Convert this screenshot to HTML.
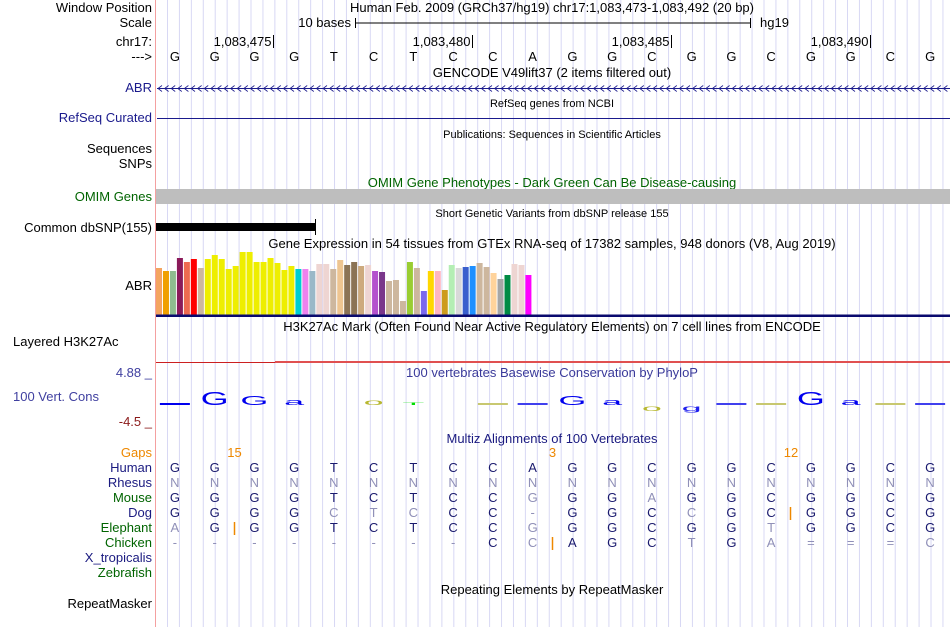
<!DOCTYPE html>
<html><head><meta charset="utf-8"><style>
body{margin:0;background:#fff;}
svg{display:block;font-family:"Liberation Sans",sans-serif;}
</style></head><body>
<svg id="c" width="950" height="627" viewBox="0 0 950 627" xmlns="http://www.w3.org/2000/svg"></svg>
<script>
const bases=["G","G","G","G","T","C","T","C","C","A","G","G","C","G","G","C","G","G","C","G"];
const gtexValues=[47,44,44,57,53,56,47,56,60,56,46,49,63,63,53,53,57,52,45,49,46,46,44,51,51,46,55,50,53,49,50,44,43,34,35,14,53,47,24,44,44,25,50,47,48,49,52,48,42,36,40,51,50,40];
const gtexColors=["#f4a460","#f0a000","#8fbc8f","#8b1a5a","#ee6a50","#ff0000","#cdb79e","#eeee00","#eeee00","#eeee00","#eeee00","#eeee00","#eeee00","#eeee00","#eeee00","#eeee00","#eeee00","#eeee00","#eeee00","#eeee00","#00ced1","#ee82ee","#9ab8c8","#eed5d2","#eed5d2","#cdb79e","#eec591","#8b7355","#8b7355","#cdaa7d","#eed5d2","#b452cd","#7a378b","#cdb79e","#cdb79e","#cdb79e","#9acd32","#cdb79e","#7b68ee","#ffd700","#ffb6c1","#cd9b1d","#b4eeb4","#d9d9d9","#3a5fcd","#1e90ff","#cdb79e","#cdb79e","#ffd39b","#a6a6a6","#008b45","#eed5d2","#eed5d2","#ff00ff"];
const tickLabels=["1,083,475","1,083,480","1,083,485","1,083,490"];
const tickBases=[2,7,12,17];
const consLetters=["_","G","G","a","","o","T","","_","_","G","a","o","g","_","_","G","a","_","_"];
const consHeights=[2,14,10,7,0,6,3,0,2,2,10,7,-6,-6,2,2,14,7,2,2];
const consColors=["#0000ee","#0000ee","#0000ee","#0000ee","","#b8b830","#00dd00","","#c8c870","#4040ee","#0000ee","#0000ee","#b8b830","#2020ee","#4040ee","#c8c870","#0000ee","#0000ee","#c8c870","#4040ee"];
const species=["Human","Rhesus","Mouse","Dog","Elephant","Chicken","X_tropicalis","Zebrafish"];
const speciesColors=["#1a1a80","#1a1a80","#006400","#1a1a80","#006400","#006400","#1a1a80","#006400"];
const alignRows=["GGGGTCTCCAGGCGGCGGCG","NNNNNNNNNNNNNNNNNNNN","GGGGTCTCCGGGAGGCGGCG","GGGGCTCCC-GGCCGCGGCG","AGGGTCTCCGGGCGGTGGCG","--------CCAGCTGA===C","",""];
const alignLight=["00000000000000000000","11111111111111111111","00000000010010000000","00001110010001000000","10000000010000010000","11111111010001011111","",""];
const gapLabels=["15","3","12"];
const gapPos=[1,9,15];

const svg=document.getElementById('c');
const NS="http://www.w3.org/2000/svg";
const X0=155,BW=(950-155)/20;
const bx=i=>X0+BW*(i+0.5);
const FS=13;
function el(t,a,txt){const e=document.createElementNS(NS,t);for(const k in a)e.setAttribute(k,a[k]);if(txt!==undefined)e.textContent=txt;svg.appendChild(e);return e;}
function label(x,y,s,col,anchor,size,name){const e=el('text',{x:x,y:y,fill:col||'#000','font-size':size||FS,'text-anchor':anchor||'end'},s);


return e;}
// grid
for(let x=167.5;x<950;x+=11.93){const g=el('line',{x1:x,y1:0,x2:x,y2:627,stroke:'#d8d8f4','stroke-width':1});

}
const sep=el('line',{x1:155.5,y1:0,x2:155.5,y2:627,stroke:'#f4a0a0','stroke-width':1});


// header
label(152,12,"Window Position",'#000','end',FS,'window-position-label');
label(552,12,"Human Feb. 2009 (GRCh37/hg19)   chr17:1,083,473-1,083,492 (20 bp)",'#000','middle',FS,'window-position-text');
label(152,27,"Scale",'#000','end',FS,'scale-label');
label(351,27,"10 bases",'#000','end',FS,'scale-bar-text');
el('path',{d:"M355.5 18v10M355.5 23H750.5M750.5 18v10",stroke:'#000',fill:'none'});
label(760,27,"hg19",'#000','start',FS,'assembly-label');
label(152,46,"chr17:",'#000','end',FS,'chromosome-label');
tickLabels.forEach((t,i)=>{const x=Math.round(X0+BW*(tickBases[i]+1))-0.5;
label(x-2,46,t,'#000','end',FS,'position-tick-label');
const l=el('line',{x1:x,y1:35,x2:x,y2:48,stroke:'#000'});

});
label(152,61,"--->",'#000','end',FS,'strand-label');
bases.forEach((b,i)=>{label(bx(i),61,b,'#000','middle',FS,'base-letter');});
label(552,77,"GENCODE V49lift37 (2 items filtered out)",'#000','middle',FS,'gencode-title');
label(152,92,"ABR",'#1a1a8c','end',FS,'abr-gene-label');
el('line',{x1:157,y1:88.5,x2:950,y2:88.5,stroke:'#1a1a8c'});
let arr="";for(let x=158;x<950;x+=6.6)arr+=`M${x+4} 85.5L${x} 88.5L${x+4} 91.5`;
el('path',{d:arr,stroke:'#1a1a8c',fill:'none','stroke-width':0.8});
label(552,107,"RefSeq genes from NCBI",'#000','middle',11,'refseq-title');
label(152,122,"RefSeq Curated",'#1a1a8c','end',FS,'refseq-curated-label');
el('line',{x1:157,y1:118.5,x2:950,y2:118.5,stroke:'#1a1a8c'});
label(552,138,"Publications: Sequences in Scientific Articles",'#000','middle',11,'publications-title');
label(152,153,"Sequences",'#000','end',FS,'sequences-label');
label(152,168,"SNPs",'#000','end',FS,'snps-label');
label(552,187,"OMIM Gene Phenotypes - Dark Green Can Be Disease-causing",'#006400','middle',FS,'omim-title');
label(152,201,"OMIM Genes",'#006400','end',FS,'omim-genes-label');
const om=el('rect',{x:156,y:189,width:794,height:15,fill:'#bebebe'});


label(552,217,"Short Genetic Variants from dbSNP release 155",'#000','middle',11,'dbsnp-title');
label(152,232,"Common dbSNP(155)",'#000','end',FS,'dbsnp-label');
const sn=el('rect',{x:156,y:223,width:159,height:8,fill:'#000'});


el('line',{x1:315.5,y1:219,x2:315.5,y2:235,stroke:'#000'});
label(552,248,"Gene Expression in 54 tissues from GTEx RNA-seq of 17382 samples, 948 donors (V8, Aug 2019)",'#000','middle',FS,'gtex-title');
label(152,290,"ABR",'#000','end',FS,'gtex-gene-label');
// gtex bars
const base=315, scale=1.0, step=6.97;
gtexValues.forEach((v,i)=>{const h=v*scale;const r=el('rect',{x:156+i*step,y:base-h,width:6,height:h,fill:gtexColors[i]});

});
el('rect',{x:156,y:314.5,width:794,height:2.5,fill:'#0a0a6e'});
label(552,331,"H3K27Ac Mark (Often Found Near Active Regulatory Elements) on 7 cell lines from ENCODE",'#000','middle',FS,'h3k27ac-title');
label(13,346,"Layered H3K27Ac",'#000','start',FS,'h3k27ac-label');
el('line',{x1:156,y1:362.5,x2:275,y2:362.5,stroke:'#cc2020'});
el('rect',{x:275,y:361,width:675,height:2,fill:'#e05050'});
// conservation
label(152,377,"4.88 _",'#4040a0','end',FS,'cons-y-max');
label(552,377,"100 vertebrates Basewise Conservation by PhyloP",'#3a3a9a','middle',FS,'cons-title');
label(13,401,"100 Vert. Cons",'#4040a0','start',FS,'cons-label');
label(152,426,"-4.5 _",'#8b1a1a','end',FS,'cons-y-min');
const cy=405;
consLetters.forEach((c,i)=>{if(!c)return;const h=consHeights[i];
if(c==="_"){const r=el('rect',{x:bx(i)-15,y:cy-2,width:30,height:2,fill:consColors[i]});

return;}
const ah=Math.abs(h),sy=ah/9,sx=3;
const y=h>0?cy:cy+ah;
const t=el('text',{x:0,y:0,fill:consColors[i],'font-size':12,'text-anchor':'middle',transform:`translate(${bx(i)},${y}) scale(${sx},${sy})`},c);

});
label(552,443,"Multiz Alignments of 100 Vertebrates",'#1a1a80','middle',FS,'multiz-title');
label(152,457,"Gaps",'#ee8800','end',FS,'gaps-label');
gapLabels.forEach((g,i)=>{label(X0+BW*(gapPos[i]+1),457,g,'#ee8800','middle',FS,'gap-count');});
const gapBars=[[4,gapPos[0]],[5,gapPos[1]],[3,gapPos[2]]];
gapBars.forEach(([r,p])=>{const x=Math.round(X0+BW*(p+1))-0.5;const l=el('line',{x1:x,y1:462+r*15,x2:x,y2:475+r*15,stroke:'#ee8800','stroke-width':1.5});

});
species.forEach((s,r)=>{label(152,472+r*15,s,speciesColors[r],'end',FS,'species-label');
const row=alignRows[r];for(let i=0;i<row.length;i++){const light=alignLight[r][i]==='1';
label(bx(i),472+r*15,row[i],light?'#9090b8':'#1a1a6e','middle',FS,'alignment-base');}});
label(552,594,"Repeating Elements by RepeatMasker",'#000','middle',FS,'repeatmasker-title');
label(152,608,"RepeatMasker",'#000','end',FS,'repeatmasker-label');
</script>
</body></html>
